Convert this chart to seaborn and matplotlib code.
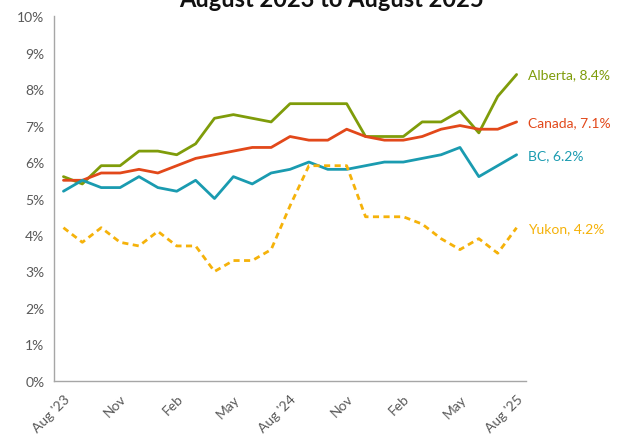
import numpy as np
import pandas as pd
import matplotlib
matplotlib.use("Agg")
import matplotlib.pyplot as plt
import seaborn as sns

# monthly data, Aug 2023 -> Aug 2025
months = pd.date_range("2023-08-01", "2025-08-01", freq="MS")
tick_labels = ["Aug '23", "Nov", "Feb", "May", "Aug '24", "Nov", "Feb", "May", "Aug '25"]

alberta = [5.6, 5.4, 5.9, 5.9, 6.3, 6.3, 6.2, 6.5, 7.2, 7.3, 7.2, 7.1, 7.6,
           7.6, 7.6, 7.6, 6.7, 6.7, 6.7, 7.1, 7.1, 7.4, 6.8, 7.8, 8.4]
canada = [5.5, 5.5, 5.7, 5.7, 5.8, 5.7, 5.9, 6.1, 6.2, 6.3, 6.4, 6.4, 6.7,
          6.6, 6.6, 6.9, 6.7, 6.6, 6.6, 6.7, 6.9, 7.0, 6.9, 6.9, 7.1]
bc = [5.2, 5.5, 5.3, 5.3, 5.6, 5.3, 5.2, 5.5, 5.0, 5.6, 5.4, 5.7, 5.8,
      6.0, 5.8, 5.8, 5.9, 6.0, 6.0, 6.1, 6.2, 6.4, 5.6, 5.9, 6.2]
yukon = [4.2, 3.8, 4.2, 3.8, 3.7, 4.1, 3.7, 3.7, 3.0, 3.3, 3.3, 3.6, 4.8,
         5.9, 5.9, 5.9, 4.5, 4.5, 4.5, 4.3, 3.9, 3.6, 3.9, 3.5, 4.2]

series = {"Alberta": alberta, "Canada": canada, "BC": bc, "Yukon": yukon}
colors = {"Alberta": "#7f9c0a", "Canada": "#e2481a", "BC": "#1a9bb0", "Yukon": "#f5b20a"}

idx = np.arange(len(months))
df = pd.concat([pd.DataFrame({"i": idx, "rate": v, "region": k}) for k, v in series.items()])

sns.set_style("white")
plt.rcParams['font.family'] = ['Lato', 'DejaVu Sans']

fig = plt.figure(figsize=(6.18, 4.39), dpi=100)
ax = fig.add_axes([0.0874, 0.130, 0.7638, 0.831])

sns.lineplot(data=df, x="i", y="rate", hue="region", style="region",
             palette=colors, dashes={"Alberta": "", "Canada": "", "BC": "", "Yukon": (2.2, 1.6)},
             linewidth=2.0, legend=False, ax=ax)

# end labels
for name, vals in series.items():
    ax.annotate(f"{name}, {vals[-1]:.1f}%", xy=(idx[-1], vals[-1]),
                xytext=(8, 0), textcoords="offset points",
                color=colors[name], fontsize=10, va="center", ha="left",
                annotation_clip=False)

ax.set_xlim(-0.5, 24.5)
ax.set_ylim(0, 10)
ax.set_yticks(np.arange(0, 11, 1))
ax.set_yticklabels([f"{t}%" for t in range(11)], color="#595959", fontsize=10)
ax.set_xticks(idx[::3])
ax.set_xticklabels(tick_labels, rotation=45, ha="right", va="top",
                   rotation_mode="anchor", color="#595959", fontsize=10)
ax.set_xticks(np.arange(0.5, 25, 2), minor=True)
ax.tick_params(axis="x", which="major", length=0, pad=8)
ax.tick_params(axis="x", which="minor", length=4, direction="in", color="#a6a6a6", width=1)
ax.tick_params(axis="y", length=4, direction="out", color="#a6a6a6", width=1, pad=3)
ax.set_xlabel("")
ax.set_ylabel("")

for side in ["top", "right"]:
    ax.spines[side].set_visible(False)
for side in ["left", "bottom"]:
    ax.spines[side].set_color("#a6a6a6")
    ax.spines[side].set_linewidth(1)

fig.text(0.536, 0.984, "August 2023 to August 2025", ha="center", va="baseline",
         fontsize=17, fontweight="bold", color="#111111")

fig.savefig("out.png", dpi=100)
